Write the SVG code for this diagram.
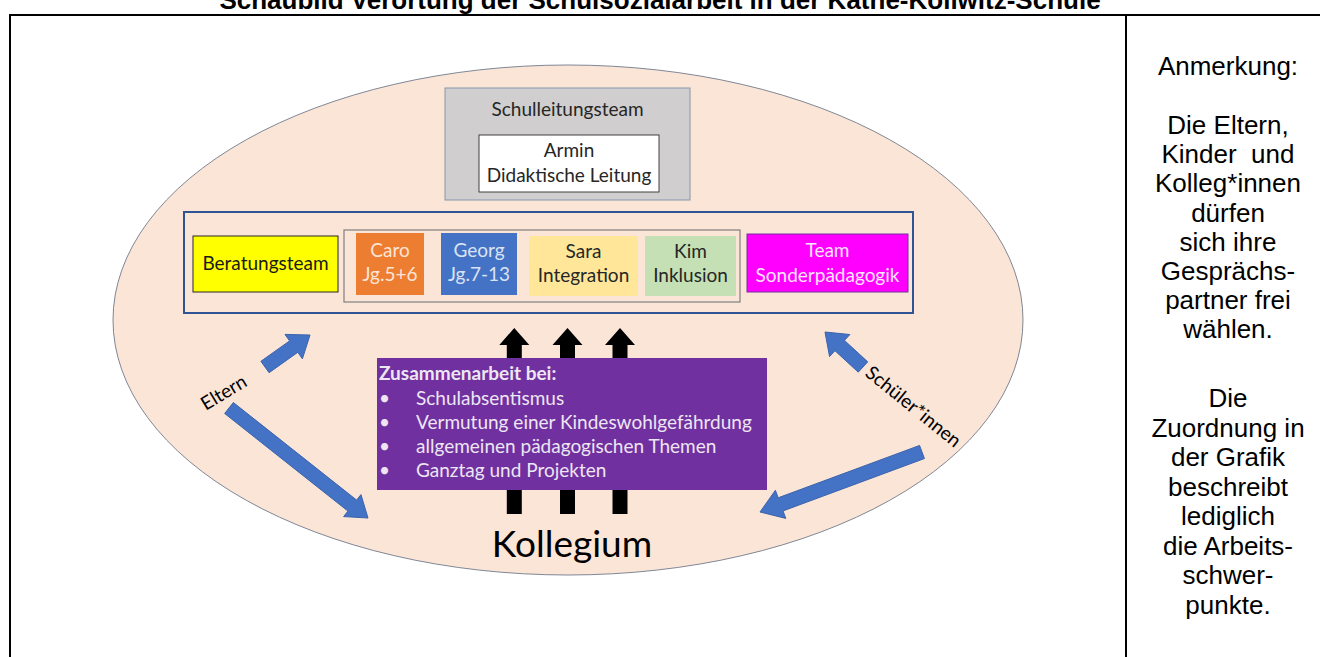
<svg xmlns="http://www.w3.org/2000/svg" width="1320" height="657" viewBox="0 0 1320 657">
<style>
.frame{stroke:#000;stroke-width:2;fill:none}
.title{font-family:"Liberation Sans",Arial,sans-serif;font-weight:bold;font-size:26px;fill:#000}
.note{font-family:"Liberation Sans",Arial,sans-serif;font-size:26px;fill:#000}
.c{font-family:Lato,"Noto Sans",sans-serif;font-size:19px;text-anchor:middle}
.l{font-family:Lato,"Noto Sans",sans-serif;font-size:19px}
.blue{fill:#4472C4;stroke:#3A63AD;stroke-width:1}
.black{fill:#000}
</style>
<rect width="1320" height="657" fill="#fff"/>
<text class="title" x="660" y="9" text-anchor="middle">Schaubild Verortung der Schulsozialarbeit in der Käthe-Kollwitz-Schule</text>
<g id="frame">
<line class="frame" x1="10" y1="15" x2="1320" y2="15"/>
<line class="frame" x1="10" y1="14" x2="10" y2="657"/>
<line class="frame" x1="1126" y1="14" x2="1126" y2="657"/>
</g>
<ellipse id="schule" cx="568" cy="320" rx="455" ry="255" fill="#FBE5D6" stroke="#7F8796" stroke-width="1"/>
<g id="connectors">
<path class="black" d="M506.8,514 V345 H499.3 L514.3,328 L529.3,345 H521.8 V514 Z"/>
<path class="black" d="M560,514 V345 H552.5 L567.5,328 L582.5,345 H575 V514 Z"/>
<path class="black" d="M612.5,514 V345 H605 L620,328 L635,345 H627.5 V514 Z"/>
<path class="blue" d="M269.1,372.7 L297.8,352.3 L302.4,358.8 L310,335 L285.0,334.4 L289.6,340.9 L260.9,361.3 Z"/>
<path class="blue" d="M233.34,402.51 L356.64,500.11 L360.98,494.62 L368,518 L343.62,516.58 L347.96,511.09 L224.66,413.49 Z"/>
<path class="blue" d="M867.74,361.86 L844.44,340.4 L849.86,334.52 L825,332 L829.55,356.57 L834.96,350.69 L858.26,372.15 Z"/>
<path class="blue" d="M919.57,445.44 L778.17,497.8 L775.4,490.3 L760,512 L785.8,518.4 L783.03,510.92 L924.43,458.56 Z"/>
<text class="c" transform="translate(224,393) rotate(-31)" y="6" fill="#000">Eltern</text>
<text class="c" transform="translate(913,407) rotate(39)" y="6" fill="#000">Schüler*innen</text>
</g>
<g id="schulleitung">
<rect x="445" y="88" width="245" height="112" fill="#D0CECE" stroke="#8497B0" stroke-width="1"/>
<text class="c" x="567.5" y="116" fill="#262626">Schulleitungsteam</text>
</g>
<g id="armin">
<rect x="479" y="135" width="180" height="57" fill="#fff" stroke="#404040" stroke-width="1"/>
<text class="c" x="569" y="157" fill="#262626">Armin</text>
<text class="c" x="569" y="182" fill="#262626">Didaktische Leitung</text>
</g>
<g id="teamrow">
<rect x="184" y="212" width="729" height="101" fill="none" stroke="#2F5597" stroke-width="2"/>
</g>
<g id="schulsozialarbeit">
<rect x="344" y="230" width="396" height="72" fill="none" stroke="#7F7F7F" stroke-width="1.2"/>
</g>
<g id="beratungsteam">
<rect x="193" y="236" width="145" height="56" fill="#FFFF00" stroke="#262626" stroke-width="1"/>
<text class="c" x="265.5" y="270" fill="#1a1a1a">Beratungsteam</text>
</g>
<g id="caro">
<rect x="356" y="233" width="68" height="62" fill="#ED7D31"/>
<text class="c" x="390" y="257" fill="#FBE5D6">Caro</text>
<text class="c" x="390" y="281" fill="#FBE5D6">Jg.5+6</text>
</g>
<g id="georg">
<rect x="441" y="233" width="76" height="62" fill="#4472C4"/>
<text class="c" x="479" y="257" fill="#DAE3F3">Georg</text>
<text class="c" x="479" y="281" fill="#DAE3F3">Jg.7-13</text>
</g>
<g id="sara">
<rect x="529" y="236" width="109" height="60" fill="#FFE699"/>
<text class="c" x="583.5" y="258" fill="#262626">Sara</text>
<text class="c" x="583.5" y="282" fill="#262626">Integration</text>
</g>
<g id="kim">
<rect x="645" y="236" width="91" height="60" fill="#C5E0B4"/>
<text class="c" x="690.5" y="258" fill="#262626">Kim</text>
<text class="c" x="690.5" y="282" fill="#262626">Inklusion</text>
</g>
<g id="sonderpaedagogik">
<rect x="747" y="234" width="161" height="58" fill="#FF00FF" stroke="#7030A0" stroke-width="1"/>
<text class="c" x="827.5" y="257" fill="#FFE5FF">Team</text>
<text class="c" x="827.5" y="282" fill="#FFE5FF">Sonderpädagogik</text>
</g>
<g id="zusammenarbeit">
<rect x="377" y="358" width="390" height="132" fill="#7030A0"/>
<text class="l" x="379" y="380" fill="#EDE6F3" font-weight="bold" font-size="20">Zusammenarbeit bei:</text>
<g class="l" fill="#EDE6F3">
<text x="379" y="405">•</text><text x="416" y="405">Schulabsentismus</text>
<text x="379" y="429">•</text><text x="416" y="429">Vermutung einer Kindeswohlgefährdung</text>
<text x="379" y="453">•</text><text x="416" y="453">allgemeinen pädagogischen Themen</text>
<text x="379" y="477">•</text><text x="416" y="477">Ganztag und Projekten</text>
</g>
</g>
<g id="kollegium">
<text x="572" y="557" font-family="Lato,'Noto Sans',sans-serif" font-size="37" text-anchor="middle" fill="#000">Kollegium</text>
</g>
<g id="anmerkung" class="note" text-anchor="middle">
<text x="1228" y="75">Anmerkung:</text>
<text x="1228" y="134">Die Eltern,</text>
<text x="1228" y="163.2" xml:space="preserve">Kinder  und</text>
<text x="1228" y="192.4">Kolleg*innen</text>
<text x="1228" y="221.6">dürfen</text>
<text x="1228" y="250.8">sich ihre</text>
<text x="1228" y="280">Gesprächs-</text>
<text x="1228" y="309.2">partner frei</text>
<text x="1228" y="338.4">wählen.</text>
<text x="1228" y="407">Die</text>
<text x="1228" y="436.5">Zuordnung in</text>
<text x="1228" y="466">der Grafik</text>
<text x="1228" y="495.5">beschreibt</text>
<text x="1228" y="525">lediglich</text>
<text x="1228" y="554.5">die Arbeits-</text>
<text x="1228" y="584">schwer-</text>
<text x="1228" y="613.5">punkte.</text>
</g>
</svg>
